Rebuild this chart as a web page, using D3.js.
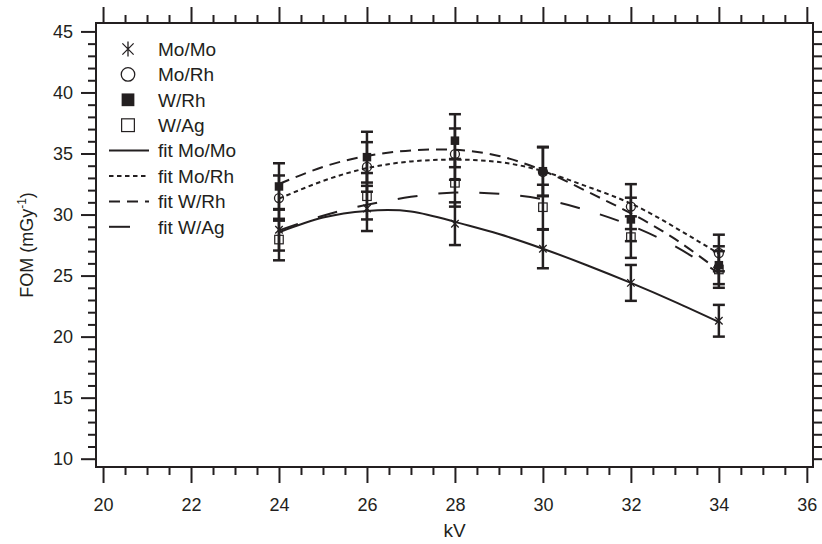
<!DOCTYPE html>
<html>
<head>
<meta charset="utf-8">
<script src="https://cdn.jsdelivr.net/npm/d3@7"></script>
<style>
  body { margin: 0; background: #fff; }
  text { font-family: "Liberation Sans", Arial, sans-serif; fill: #231f20; }
</style>
</head>
<body>
<div id="chart"></div>
<script>
const W = 822, H = 544;
const INK = "#231f20";

// measured points
const kv = [24, 26, 28, 30, 32, 34];
const moMo = [28.75, 30.5, 29.25, 27.2, 24.4, 21.3];
const moMoErr = [1.7, 1.85, 1.75, 1.6, 1.47, 1.3];
const moRh = [31.35, 33.9, 34.95, 33.5, 30.65, 26.85];
const moRhErr = [1.85, 2.03, 2.1, 2.0, 1.84, 1.5];
const wRh = [32.3, 34.7, 36.05, 33.55, 29.6, 25.85];
const wRhErr = [1.9, 2.08, 2.17, 2.0, 1.78, 1.55];
const wAg = [27.95, 31.5, 32.6, 30.6, 28.15, 25.5];
const wAgErr = [1.7, 1.9, 1.95, 1.84, 1.7, 1.5];

// fitted curves at each kV
const fitKv = [24, 25, 26, 27, 28, 29, 30, 31, 32, 33, 34];
const fitMoMo = [28.55, 29.75, 30.3, 30.25, 29.4, 28.4, 27.2, 25.85, 24.4, 22.85, 21.2];
const fitMoRh = [31.3, 32.75, 33.8, 34.35, 34.5, 34.3, 33.55, 32.3, 30.9, 28.95, 26.8];
const fitWRh = [32.5, 33.9, 34.8, 35.25, 35.3, 34.8, 33.6, 31.9, 30.1, 28.0, 25.4];
const fitWAg = [28.7, 29.9, 30.8, 31.45, 31.8, 31.7, 31.25, 30.35, 29.1, 27.4, 25.2];

const xTicks = [20, 22, 24, 26, 28, 30, 32, 34, 36];
const yTicks = [10, 15, 20, 25, 30, 35, 40, 45];

const plot = { left: 96, right: 813, top: 23, bottom: 467 };

const x = d3.scaleLinear().domain([19.84, 36.14]).range([plot.left, plot.right]);
const y = d3.scaleLinear().domain([9.32, 45.69]).range([plot.bottom, plot.top]);

const svg = d3.select("#chart").append("svg")
  .attr("width", W).attr("height", H);

// ticks
const xMinor = d3.range(20, 36.01, 0.5).filter(v => v % 2 !== 0);
const yMinor = d3.range(10, 45.01, 1).filter(v => v % 5 !== 0);

function tickAxis(axisFn, scale, values, size, pos, pad) {
  const a = axisFn(scale).tickValues(values).tickSize(size);
  if (pad == null) a.tickFormat("");
  else a.tickPadding(pad);
  const g = svg.append("g").attr("transform", pos).call(a);
  g.select(".domain").remove();
  g.selectAll(".tick line").attr("stroke", INK).attr("stroke-width", 2);
  g.selectAll(".tick text").style("font-size", "18px").attr("fill", INK)
    .style("font-family", "'Liberation Sans', Arial, sans-serif");
  return g;
}

const bottomY = `translate(0,${plot.bottom})`;
const topY = `translate(0,${plot.top})`;
const leftX = `translate(${plot.left},0)`;
const rightX = `translate(${plot.right},0)`;

tickAxis(d3.axisBottom, x, xTicks, 16, bottomY, 15);
tickAxis(d3.axisBottom, x, xMinor, 8, bottomY);
tickAxis(d3.axisTop, x, xTicks, 16, topY);
tickAxis(d3.axisTop, x, xMinor, 8, topY);
tickAxis(d3.axisLeft, y, yTicks, 15, leftX, 8);
tickAxis(d3.axisLeft, y, yMinor, 8, leftX);
tickAxis(d3.axisRight, y, yTicks.concat(yMinor), 9, rightX);

svg.append("rect")
  .attr("x", plot.left).attr("y", plot.top)
  .attr("width", plot.right - plot.left).attr("height", plot.bottom - plot.top)
  .attr("fill", "none").attr("stroke", INK).attr("stroke-width", 2);

// axis titles
svg.append("text")
  .attr("x", (plot.left + plot.right) / 2).attr("y", 537)
  .attr("text-anchor", "middle").style("font-size", "19px").text("kV");

const yt = svg.append("text")
  .attr("transform", `translate(33,${(plot.top + plot.bottom) / 2}) rotate(-90)`)
  .attr("text-anchor", "middle").style("font-size", "18px");
yt.append("tspan").text("FOM (mGy");
yt.append("tspan").attr("dy", -7).style("font-size", "12px").text("-1");
yt.append("tspan").attr("dy", 7).text(")");

// fit lines
const fits = [
  { vals: fitMoMo, dash: null, label: "fit Mo/Mo" },
  { vals: fitMoRh, dash: "4.5,3.5", label: "fit Mo/Rh" },
  { vals: fitWRh, dash: "11,7", label: "fit W/Rh" },
  { vals: fitWAg, dash: "20,21", label: "fit W/Ag" }
];

const line = d3.line()
  .x(d => x(d[0])).y(d => y(d[1]))
  .curve(d3.curveNatural);

fits.forEach(f => {
  svg.append("path")
    .datum(fitKv.map((k, i) => [k, f.vals[i]]))
    .attr("d", line)
    .attr("fill", "none").attr("stroke", INK).attr("stroke-width", 2)
    .attr("stroke-dasharray", f.dash);
});

// series with error bars
const series = [
  { vals: moMo, err: moMoErr, sym: "star", label: "Mo/Mo" },
  { vals: moRh, err: moRhErr, sym: "circle", label: "Mo/Rh" },
  { vals: wRh, err: wRhErr, sym: "fsquare", label: "W/Rh" },
  { vals: wAg, err: wAgErr, sym: "osquare", label: "W/Ag" }
];

const capW = 6;
series.forEach(s => {
  const pts = kv.map((k, i) => ({ k, v: s.vals[i], e: s.err[i] }));
  const eg = svg.append("g").attr("stroke", INK).attr("stroke-width", 2.5);
  eg.selectAll(".bar").data(pts).join("line")
    .attr("x1", d => x(d.k)).attr("x2", d => x(d.k))
    .attr("y1", d => y(d.v - d.e)).attr("y2", d => y(d.v + d.e));
  eg.selectAll(".capT").data(pts).join("line")
    .attr("x1", d => x(d.k) - capW).attr("x2", d => x(d.k) + capW)
    .attr("y1", d => y(d.v + d.e)).attr("y2", d => y(d.v + d.e));
  eg.selectAll(".capB").data(pts).join("line")
    .attr("x1", d => x(d.k) - capW).attr("x2", d => x(d.k) + capW)
    .attr("y1", d => y(d.v - d.e)).attr("y2", d => y(d.v - d.e));
});

function drawSymbol(g, sym, cx, cy, r) {
  if (sym === "star") {
    const d = r * 0.75;
    g.append("path")
      .attr("d", `M${cx},${cy - r}L${cx},${cy + r}M${cx - d},${cy - d}L${cx + d},${cy + d}M${cx - d},${cy + d}L${cx + d},${cy - d}`)
      .attr("stroke", INK).attr("stroke-width", 1.3).attr("fill", "none");
  } else if (sym === "circle") {
    g.append("circle").attr("cx", cx).attr("cy", cy).attr("r", r * 0.9)
      .attr("fill", "none").attr("stroke", INK).attr("stroke-width", 1.3);
  } else if (sym === "fsquare") {
    g.append("rect").attr("x", cx - r * 0.85).attr("y", cy - r * 0.85)
      .attr("width", r * 1.7).attr("height", r * 1.7).attr("fill", INK);
  } else {
    g.append("rect").attr("x", cx - r * 0.85).attr("y", cy - r * 0.85)
      .attr("width", r * 1.7).attr("height", r * 1.7)
      .attr("fill", "none").attr("stroke", INK).attr("stroke-width", 1.2);
  }
}

const mg = svg.append("g");
series.forEach(s => {
  kv.forEach((k, i) => drawSymbol(mg, s.sym, x(k), y(s.vals[i]), 5));
});

// legend
const lg = svg.append("g");
const rowY = i => 49 + i * 25.4;
series.forEach((s, i) => {
  drawSymbol(lg, s.sym, 128, rowY(i), 7.5);
  lg.append("text").attr("x", 158).attr("y", rowY(i)).attr("dy", "0.36em")
    .style("font-size", "19px").text(s.label);
});
fits.forEach((f, j) => {
  const i = j + 4;
  lg.append("line")
    .attr("x1", 109).attr("x2", f.dash === "20,21" ? 130 : 149)
    .attr("y1", rowY(i)).attr("y2", rowY(i))
    .attr("stroke", INK).attr("stroke-width", 2)
    .attr("stroke-dasharray", f.dash === "20,21" ? null : f.dash);
  lg.append("text").attr("x", 158).attr("y", rowY(i)).attr("dy", "0.36em")
    .style("font-size", "19px").text(f.label);
});
</script>
</body>
</html>
